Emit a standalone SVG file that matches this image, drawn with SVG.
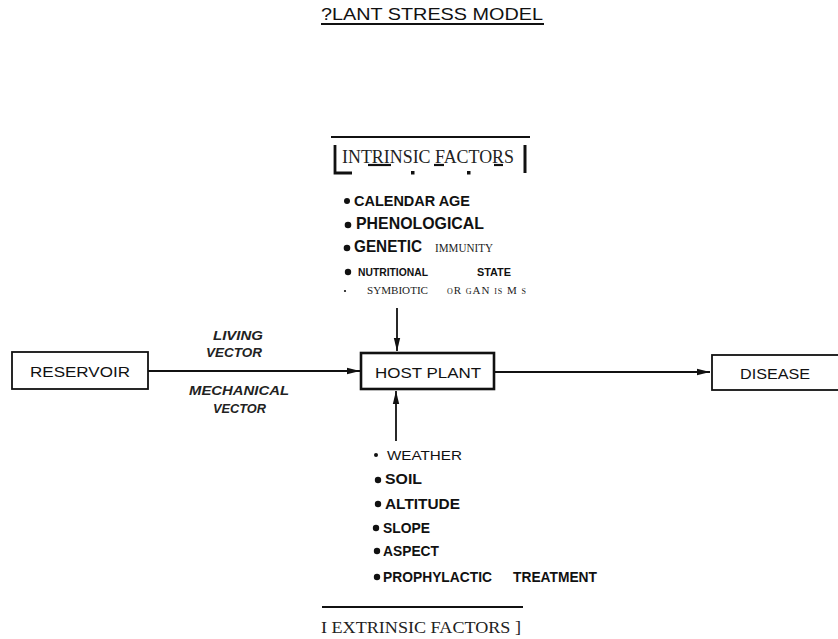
<svg xmlns="http://www.w3.org/2000/svg" width="838" height="639" viewBox="0 0 838 639">
<defs>
<marker id="ah" markerWidth="14" markerHeight="8" refX="13" refY="4" orient="auto" markerUnits="userSpaceOnUse">
<path d="M0,0.8 L13,4 L0,7.2 Z" fill="#111"/>
</marker>
<style>
.box{fill:#fff;stroke:#111;stroke-width:1.8}
.thick{stroke-width:2.6}
.edge{stroke:#111;stroke-width:1.8;fill:none}
.sans{font-family:"Liberation Sans","DejaVu Sans",Arial,sans-serif;fill:#111}
.bold{font-family:"Liberation Sans",Arial,sans-serif;font-weight:bold;fill:#111}
.serif{font-family:"Liberation Serif","Times New Roman",serif;fill:#222}
.it{font-family:"Liberation Sans",Arial,sans-serif;font-style:italic;font-weight:bold;font-size:12.5px;fill:#222}
.rule{stroke:#111;fill:none}
.dot{fill:#111}
</style>
</defs>
<rect width="838" height="639" fill="#fff"/>

<g id="title">
<text class="sans" x="321" y="20" font-size="17" textLength="222" lengthAdjust="spacingAndGlyphs">?LANT STRESS MODEL</text>
<line class="rule" x1="321" y1="24" x2="544" y2="24" stroke-width="2.2"/>
</g>

<g id="connectors">
<line class="edge" x1="148" y1="371" x2="360" y2="371" marker-end="url(#ah)"/>
<line class="edge" x1="494" y1="372" x2="710" y2="372" marker-end="url(#ah)"/>
<line class="edge" x1="397" y1="308" x2="397" y2="351" marker-end="url(#ah)"/>
<line class="edge" x1="396" y1="441" x2="396" y2="391" marker-end="url(#ah)"/>
</g>

<g id="edge-labels">
<text class="it" x="213" y="340" textLength="50" lengthAdjust="spacingAndGlyphs">LIVING</text>
<text class="it" x="206" y="357" textLength="56" lengthAdjust="spacingAndGlyphs">VECTOR</text>
<text class="it" x="189" y="395" textLength="100" lengthAdjust="spacingAndGlyphs">MECHANICAL</text>
<text class="it" x="213" y="413" textLength="53" lengthAdjust="spacingAndGlyphs">VECTOR</text>
</g>

<g id="reservoir">
<rect class="box" x="12" y="352" width="136" height="37"/>
<text class="sans" x="30" y="377" font-size="14" textLength="100" lengthAdjust="spacingAndGlyphs">RESERVOIR</text>
</g>

<g id="host-plant">
<rect class="box thick" x="361" y="353" width="133" height="36"/>
<text class="sans" x="375" y="378" font-size="15" textLength="106" lengthAdjust="spacingAndGlyphs">HOST PLANT</text>
</g>

<g id="disease">
<rect class="box" x="712" y="355" width="135" height="35"/>
<text class="sans" x="740" y="379" font-size="14" textLength="70" lengthAdjust="spacingAndGlyphs">DISEASE</text>
</g>

<g id="intrinsic-factors">
<line class="rule" x1="331" y1="137" x2="530" y2="137" stroke-width="2"/>
<path class="rule" d="M335,145 V173 H352" stroke-width="2.8"/>
<line class="rule" x1="525" y1="145" x2="525" y2="173" stroke-width="3"/>
<text class="serif" x="342" y="163" font-size="19" textLength="172" lengthAdjust="spacingAndGlyphs">INTRINSIC FACTORS</text>
<line class="rule" x1="368" y1="165" x2="391" y2="165" stroke-width="2.2"/>
<line class="rule" x1="434" y1="165" x2="444" y2="165" stroke-width="2.2"/>
<line class="rule" x1="494" y1="165" x2="503" y2="165" stroke-width="2.2"/>
<rect class="dot" x="411" y="171" width="3.5" height="3.5"/>
<rect class="dot" x="467" y="171" width="3.5" height="3.5"/>
</g>

<g id="intrinsic-list">
<circle class="dot" cx="347" cy="201" r="3"/>
<text class="bold" x="354" y="206" font-size="15" textLength="116" lengthAdjust="spacingAndGlyphs">CALENDAR  AGE</text>
<circle class="dot" cx="348" cy="225" r="3.3"/>
<text class="bold" x="356" y="229" font-size="16.5" textLength="128" lengthAdjust="spacingAndGlyphs">PHENOLOGICAL</text>
<circle class="dot" cx="347" cy="248" r="3.3"/>
<text class="bold" x="354" y="252" font-size="16.5" textLength="68" lengthAdjust="spacingAndGlyphs">GENETIC</text>
<text class="serif" x="435" y="252" font-size="11.5" textLength="58" lengthAdjust="spacingAndGlyphs">IMMUNITY</text>
<circle class="dot" cx="348" cy="272" r="3.2"/>
<text class="bold" x="358" y="276" font-size="10.5" textLength="70" lengthAdjust="spacingAndGlyphs">NUTRITIONAL</text>
<text class="bold" x="477" y="276" font-size="10.5" textLength="34" lengthAdjust="spacingAndGlyphs">STATE</text>
<circle class="dot" cx="345" cy="291" r="1.1"/>
<text class="serif" x="367" y="294" font-size="11" textLength="61" lengthAdjust="spacingAndGlyphs">SYMBIOTIC</text>
<text class="serif" x="447" y="294" font-size="11" textLength="79" lengthAdjust="spacing"><tspan font-size="8">O</tspan>R <tspan font-size="8">G</tspan>AN  <tspan font-size="8">IS</tspan> M <tspan font-size="8">S</tspan></text>
</g>

<g id="extrinsic-list">
<circle class="dot" cx="376" cy="455" r="2"/>
<text class="sans" x="387" y="460" font-size="13" textLength="75" lengthAdjust="spacingAndGlyphs">WEATHER</text>
<circle class="dot" cx="378" cy="480" r="3.2"/>
<text class="bold" x="385" y="484" font-size="15" textLength="37" lengthAdjust="spacingAndGlyphs">SOIL</text>
<circle class="dot" cx="378" cy="504" r="3.2"/>
<text class="bold" x="385" y="509" font-size="15" textLength="75" lengthAdjust="spacingAndGlyphs">ALTITUDE</text>
<circle class="dot" cx="376" cy="528" r="3.2"/>
<text class="bold" x="383" y="533" font-size="15" textLength="47" lengthAdjust="spacingAndGlyphs">SLOPE</text>
<circle class="dot" cx="377" cy="551" r="3.2"/>
<text class="bold" x="383" y="556" font-size="15" textLength="56" lengthAdjust="spacingAndGlyphs">ASPECT</text>
<circle class="dot" cx="377" cy="577" r="3.2"/>
<text class="bold" x="383" y="582" font-size="15" textLength="109" lengthAdjust="spacingAndGlyphs">PROPHYLACTIC</text>
<text class="bold" x="513" y="582" font-size="15" textLength="84" lengthAdjust="spacingAndGlyphs">TREATMENT</text>
</g>

<g id="extrinsic-factors">
<line class="rule" x1="322" y1="607" x2="523" y2="607" stroke-width="2"/>
<text class="serif" x="321" y="633" font-size="17" textLength="200" lengthAdjust="spacingAndGlyphs">I EXTRINSIC FACTORS ]</text>
</g>
</svg>
